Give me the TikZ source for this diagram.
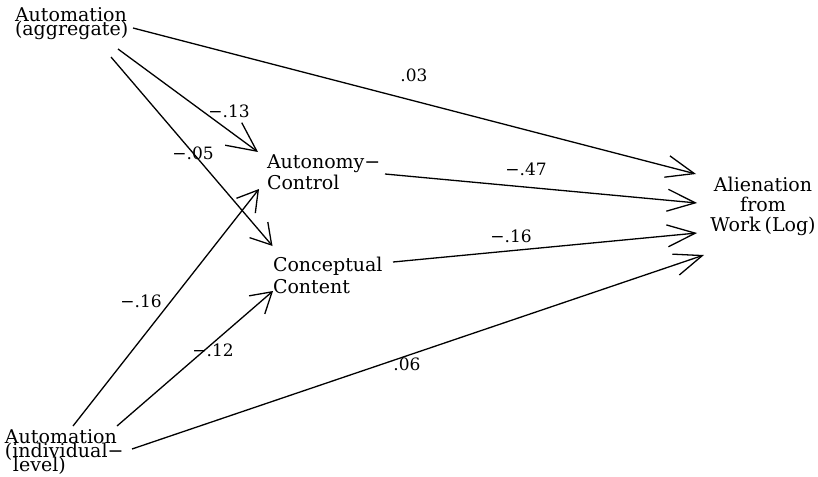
\documentclass[tikz,border=0pt]{standalone}
\usepackage{fontspec}
\setmainfont{DejaVu Serif}
\usetikzlibrary{arrows.meta}
\begin{document}
\begin{tikzpicture}[x=1pt,y=-1pt,
  every node/.style={inner sep=0pt, outer sep=0pt},
  varbox/.style={font=\fontsize{19}{#1}\selectfont, align=left, anchor=north west},
  weight/.style={font=\fontsize{17}{17}\selectfont},
  link/.style={line width=1.3pt},
  tobig/.style={link, -{Straight Barb[length=28pt,width=22pt]}},
  tomid/.style={link, -{Straight Barb[length=20pt,width=24pt]}},
  towide/.style={link, -{Straight Barb[length=29pt,width=28pt]}}]
\lineskiplimit=-100pt
\useasboundingbox[fill=white] (0,0) rectangle (818,476);

% variables
\node[varbox=13.5] (agg) at (15,8) {Automation\\(aggregate)};
\node[varbox=14] (ind) at (5,430) {Automation\\(individual−\\\hspace*{8pt}level)};
\node[varbox=21] (aut) at (267,155) {Autonomy−\\Control};
\node[varbox=22] (con) at (273,257) {Conceptual\\Content};
\node[font=\fontsize{19}{20}\selectfont, align=center, anchor=north]
  (alien) at (763,177) {Alienation\\from\\Work\hspace{4pt}(Log)};

% paths
\draw[tobig]  ([shift={(118,20)}]agg.north west) -- ([shift={(-67,-3)}]alien.north);
\draw[towide] ([shift={(103,41)}]agg.north west) -- ([shift={(-9,-3)}]aut.north west);
\draw[tomid]  ([shift={(96,49)}]agg.north west) -- ([shift={(-0.5,-11)}]con.north west);
\draw[tomid]  ([shift={(68,-4)}]ind.north west) -- ([shift={(-8,34)}]aut.north west);
\draw[tomid]  ([shift={(112,-4)}]ind.north west) -- ([shift={(0,34)}]con.north west);
\draw[tobig]  ([shift={(127,19)}]ind.north west) -- ([shift={(-59,78)}]alien.north);
\draw[tobig]  ([shift={(118,19)}]aut.north west) -- ([shift={(-66,26)}]alien.north);
\draw[tobig]  ([shift={(120,5)}]con.north west) -- ([shift={(-66,56)}]alien.north);

% path coefficients
\node[weight] (w03)  at (414,75)  {.03};
\node[weight] (w13)  at (229,111) {−.13};
\node[weight] (w05)  at (193,153) {−.05};
\node[weight] (w47)  at (526,169) {−.47};
\node[weight] (w16a) at (511,236) {−.16};
\node[weight] (w16b) at (141,301) {−.16};
\node[weight] (w12)  at (213,350) {−.12};
\node[weight] (w06)  at (407,364) {.06};
\end{tikzpicture}
\end{document}
